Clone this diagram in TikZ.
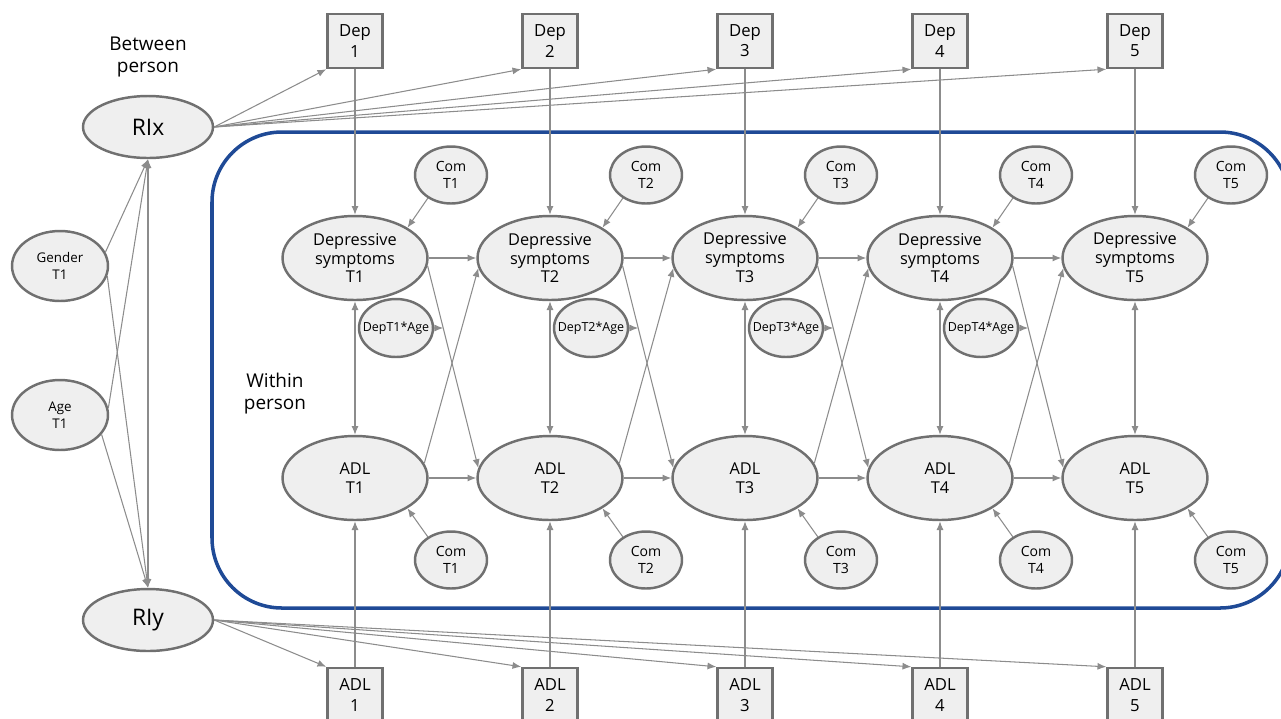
\documentclass[tikz,border=0pt]{standalone}
\usepackage{fontspec}
\setmainfont{Open Sans}
\usetikzlibrary{shapes.geometric,arrows.meta,calc}
\definecolor{nodefill}{HTML}{EFEFEF}
\definecolor{nodeline}{HTML}{707070}
\definecolor{conn}{HTML}{8C8C8C}
\definecolor{frame}{HTML}{1F4A96}
\tikzset{
 lat/.style={ellipse, draw=nodeline, fill=nodefill, line width=1.4pt, inner sep=0pt, align=center, text=black},
 big/.style={lat, minimum width=2.9cm, minimum height=1.68cm, font=\fontsize{9.3}{10.8}\selectfont},
 com/.style={lat, minimum width=1.44cm, minimum height=1.14cm, font=\fontsize{8}{9.5}\selectfont},
 inter/.style={lat, minimum width=1.48cm, minimum height=1.16cm, font=\fontsize{7.1}{8}\selectfont},
 ri/.style={lat, minimum width=2.6cm, minimum height=1.24cm, font=\fontsize{13}{15}\selectfont},
 cov/.style={lat, minimum width=1.92cm, minimum height=1.4cm, font=\fontsize{7.6}{9.6}\selectfont},
 obs/.style={rectangle, draw=nodeline, fill=nodefill, line width=1.4pt, minimum width=1.1cm, minimum height=1.08cm, inner sep=0pt, align=center, font=\fontsize{9.5}{11.5}\selectfont},
 arr/.style={draw=conn, line width=0.6pt, -{Latex[length=5pt,width=4pt]}},
 dbl/.style={draw=conn, line width=0.6pt, {Latex[length=5pt,width=4pt]}-{Latex[length=5pt,width=4pt]}},
 lbl/.style={align=center, font=\fontsize{10.8}{12.5}\selectfont},
 framebox/.style={draw=frame, line width=2pt, rounded corners=1.4cm}
}
\begin{document}
\begin{tikzpicture}[x=0.02cm, y=-0.02cm]
\useasboundingbox (0,0) rectangle (1281,718);
\draw[framebox] (212,132) rectangle (1290,608);

\node[lbl] (btw) at (148,57) {Between\\person};
\node[lbl] (wth) at (275,394) {Within\\person};

\node[ri] (rix) at (148,127) {RIx};
\node[ri] (riy) at (148,620) {RIy};
\node[cov] (gen) at (60,266) {Gender\\T1};
\node[cov] (age) at (60,415) {Age\\T1};

\foreach \i/\x in {1/355,2/550,3/745,4/940,5/1135}{
  \node[obs] (dep\i) at (\x,41) {Dep\\\i};
  \node[big] (d\i) at (\x,258) {Depressive\\symptoms\\T\i};
  \node[big] (a\i) at (\x,478) {ADL\\T\i};
  \node[com] (ct\i) at (\x+96,175) {Com\\T\i};
  \node[com] (cb\i) at (\x+96,560) {Com\\T\i};
  \node[obs] (adl\i) at (\x,695) {ADL\\\i};
  \draw[arr] (dep\i.south) -- (d\i.north);
  \draw[arr] (adl\i.north) -- (a\i.south);
  \draw[dbl] (d\i.south) -- (a\i.north);
  \draw[arr] (ct\i.225) -- (d\i.30);
  \draw[arr] (cb\i.135) -- (a\i.-30);
  \draw[arr] (rix.east) -- (dep\i.south west);
  \draw[arr] (riy.east) -- (adl\i.north west);
}

\foreach \i/\x in {1/355,2/550,3/745,4/940}{
  \pgfmathtruncatemacro{\j}{\i+1}
  \node[inter] (da\i) at (\x+41,328) {\makebox[0pt]{DepT\i*Age}};
  \draw[arr] (d\i.east) -- (d\j.west);
  \draw[arr] (a\i.east) -- (a\j.west);
  \draw[arr] (d\i.-6) -- (a\j.172);
  \draw[arr] (a\i.12) -- (d\j.188);
  \coordinate (m\i) at (intersection cs: first line={(d\i.-6)--(a\j.172)}, second line={(da\i.west)--(da\i.east)});
  \draw[arr] (da\i.east) -- (m\i);
}

\draw[dbl] (rix.south) -- (riy.north);
\draw[arr] (gen.17) -- (rix.south);
\draw[arr] (gen.-12) -- (riy.north);
\draw[arr] (age.8) -- (rix.south);
\draw[arr] (age.-25) -- (riy.north);
\end{tikzpicture}
\end{document}
